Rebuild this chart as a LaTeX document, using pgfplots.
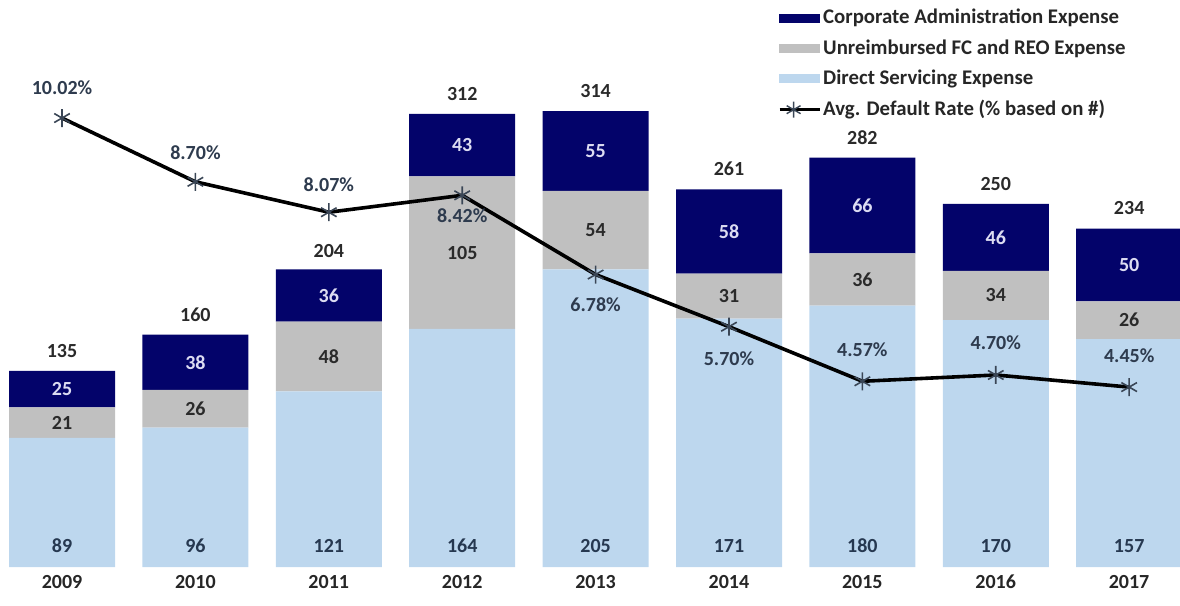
\documentclass[border=0pt]{standalone}
\usepackage{fontspec}
\setmainfont{Carlito}
\usepackage{pgfplots}
\pgfplotsset{compat=1.18}
\usepackage{pgfplotstable}

\definecolor{navy}{HTML}{03036A}
\definecolor{ggray}{HTML}{C0C0C0}
\definecolor{lblue}{HTML}{BDD7EE}
\definecolor{navylab}{HTML}{DCDCF2}
\definecolor{bluelab}{HTML}{263850}
\definecolor{graylab}{HTML}{2A2A2A}
\definecolor{pctlab}{HTML}{2E3B4E}
\definecolor{markcol}{HTML}{3A4656}

% year, direct servicing, unreimbursed FC/REO, corporate admin, total, default rate, label shift (pt)
\pgfplotstableread{
year dse ufc cae total rate shift
2009 89  21  25  135 10.02 15
2010 96  26  38  160 8.70  14.5
2011 121 48  36  204 8.07  14
2012 164 105 43  312 8.42  -10
2013 205 54  55  314 6.78  -15
2014 171 31  58  261 5.70  -16
2015 180 36  66  282 4.57  16
2016 170 34  46  250 4.70  16
2017 157 26  50  234 4.45  15.5
}\costs

\pgfplotsset{
  /pgf/number format/assume math mode=true,
  common/.style={
    width=590pt, height=302.5pt, scale only axis,
    xmin=2008.535, xmax=2017.381,
    axis line style={draw=none}, tick style={draw=none},
    ytick=\empty,
  },
  patch/.style={legend image code/.code={\fill[#1] (0pt,-2pt) rectangle (20pt,2pt);}},
}

\begin{document}
\begin{tikzpicture}[font=\fontsize{10}{12}\selectfont\bfseries]
\begin{axis}[common,
    ybar stacked, bar width=53pt,
    ymin=-26.17, ymax=390.5,
    xtick={2009,...,2017},
    xticklabels={2009,2010,2011,2012,2013,2014,2015,2016,2017},
    xticklabel style={anchor=center, yshift=11.5pt, text=black!85},
    legend style={draw=none, fill=none, at={(0.659,0.992)}, anchor=north west,
      inner sep=0pt, row sep=2.4pt, font=\fontsize{10.4}{12}\selectfont\bfseries,
      text=black!85, nodes={inner xsep=1pt}},
    legend cell align=left,
  ]
  \addplot[fill=lblue, draw=none, forget plot] table[x=year, y=dse] {\costs};
  \addplot[fill=ggray, draw=none, forget plot] table[x=year, y=ufc] {\costs};
  \addplot[fill=navy, draw=none, forget plot] table[x=year, y=cae] {\costs};

  \addlegendimage{patch=navy}
  \addlegendentry{Corporate Administration Expense}
  \addlegendimage{patch=ggray}
  \addlegendentry{Unreimbursed FC and REO Expense}
  \addlegendimage{patch=lblue}
  \addlegendentry{Direct Servicing Expense}
  \addlegendimage{legend image code/.code={
      \draw[black, line width=1.6pt] (0pt,0pt) -- (20pt,0pt);
      \begin{scope}[shift={(7pt,0pt)}, draw=markcol, line width=0.7pt]
        \pgfsetplotmarksize{4pt}\pgfuseplotmark{asterisk}
      \end{scope}}}
  \addlegendentry{Avg. Default Rate (\% based on \#)}
\end{axis}

\begin{axis}[common, hide axis,
    ymin=-0.062, ymax=12.464,
    every node near coord/.append style={anchor=center, yshift=\myshift pt, text=pctlab},
  ]
  \addplot[black, line width=1.8pt, mark=asterisk, mark size=4.5pt,
    mark options={markcol, line width=0.8pt},
    point meta=explicit,
    visualization depends on={\thisrow{shift}\as\myshift},
    nodes near coords={\pgfmathprintnumber[fixed,fixed zerofill,precision=2]{\pgfplotspointmeta}\%},
  ] table[x=year, y=rate, meta=rate] {\costs};
\end{axis}

\begin{axis}[common, hide axis,
    ymin=-26.17, ymax=390.5,
    point meta=explicit,
    every node near coord/.append style={anchor=center},
  ]
  \addplot[draw=none, mark=none, nodes near coords,
    every node near coord/.append style={text=bluelab}]
    table[x=year, y expr=14.5, meta=dse] {\costs};
  \addplot[draw=none, mark=none, nodes near coords,
    every node near coord/.append style={text=graylab}]
    table[x=year, y expr=\thisrow{dse}+\thisrow{ufc}/2, meta=ufc] {\costs};
  \addplot[draw=none, mark=none, nodes near coords,
    every node near coord/.append style={text=navylab}]
    table[x=year, y expr=\thisrow{dse}+\thisrow{ufc}+\thisrow{cae}/2, meta=cae] {\costs};
  \addplot[draw=none, mark=none, nodes near coords,
    every node near coord/.append style={text=graylab}]
    table[x=year, y expr=\thisrow{total}+13.5, meta=total] {\costs};
\end{axis}
\end{tikzpicture}
\end{document}
